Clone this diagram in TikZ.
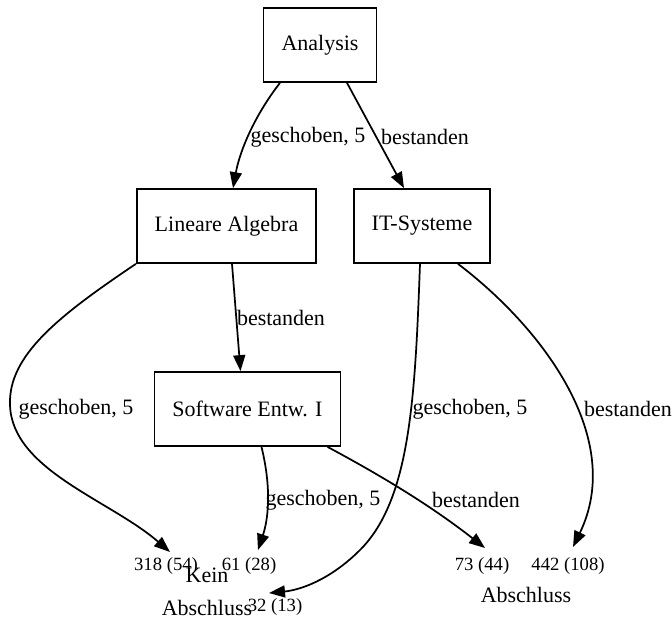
\documentclass[tikz,border=0pt]{standalone}
\usepackage{fontspec}
\setmainfont{Liberation Serif}
\usetikzlibrary{arrows.meta, calc}

\tikzset{
	kurs/.style={draw, line width=1.3pt, inner xsep=13.5pt, minimum height=55.5pt, font=\fontsize{16.5}{18}\selectfont},
	zahl/.style={inner sep=0pt, font=\fontsize{14}{16}\selectfont},
	lbl/.style={inner sep=0pt, font=\fontsize{16.5}{18}\selectfont},
	pfeil/.style={line width=1.3pt, -{Triangle[length=12pt,width=9pt]}}
}

\begin{document}
\begin{tikzpicture}[x=0.75pt, y=-0.75pt]
		\useasboundingbox (0,0) rectangle (672,619);
		% Kurse
		\node[kurs] (ana) at (320,45) {Analysis};
		\node[kurs] (la) at (226.5,226) {Lineare Algebra};
		\node[kurs] (it) at (422,226) {IT-Systeme};
		\node[kurs] (se) at (247.5,409) {Software Entw. I};
		% Ausgaenge
		\node[zahl] (n318) at (166,566) {318 (54)};
		\node[zahl] (n61) at (249,566) {61 (28)};
		\node[zahl] (n32) at (275,607) {32 (13)};
		\node[zahl] (n73) at (482,566) {73 (44)};
		\node[zahl] (n442) at (568,566) {442 (108)};
		\node[lbl, align=center] (kein) at (207,592) {Kein\\[7pt]Abschluss};
		\node[lbl] (absch) at (526,595) {Abschluss};
		\coordinate (p318) at (170,552);
		\coordinate (p61) at (258,550);
		\coordinate (p32) at (269,593);
		\coordinate (p73) at (485,548);
		\coordinate (p442) at (573,547);
		% Kanten
		\draw[pfeil] ($(ana.south)+(-40,0)$) .. controls (255,115) and (240,150) .. ($(la.north)+(6.5,0)$);
		\draw[pfeil] ($(ana.south)+(27,0)$) -- ($(it.north)+(-18,0)$);
		\draw[pfeil] ($(la.south)+(5.5,0)$) -- ($(se.north)+(-7,0)$);
		\draw[pfeil] (la.south west) .. controls (60,315) and (8,355) .. (10,405) .. controls (12,470) and (110,500) .. (p318);
		\draw[pfeil] ($(it.south)+(-2,0)$) .. controls (415,400) and (410,500) .. (360,550) .. controls (330,580) and (300,590) .. (p32);
		\draw[pfeil] ($(it.south)+(36,0)$) .. controls (545,330) and (625,440) .. (p442);
		\draw[pfeil] ($(se.south)+(14,0)$) .. controls (272,490) and (268,520) .. (p61);
		\draw[pfeil] ($(se.south)+(80,0)$) .. controls (380,475) and (430,505) .. (p73);
		% Beschriftungen
		\node[lbl] (l1) at (308,137) {geschoben, 5};
		\node[lbl] (l2) at (425,137) {bestanden};
		\node[lbl] (l3) at (281,318) {bestanden};
		\node[lbl] (l4) at (76,409) {geschoben, 5};
		\node[lbl] (l5) at (470,409) {geschoben, 5};
		\node[lbl] (l6) at (628,409) {bestanden};
		\node[lbl] (l7) at (323,500) {geschoben, 5};
		\node[lbl] (l8) at (476,500) {bestanden};
\end{tikzpicture}
\end{document}
